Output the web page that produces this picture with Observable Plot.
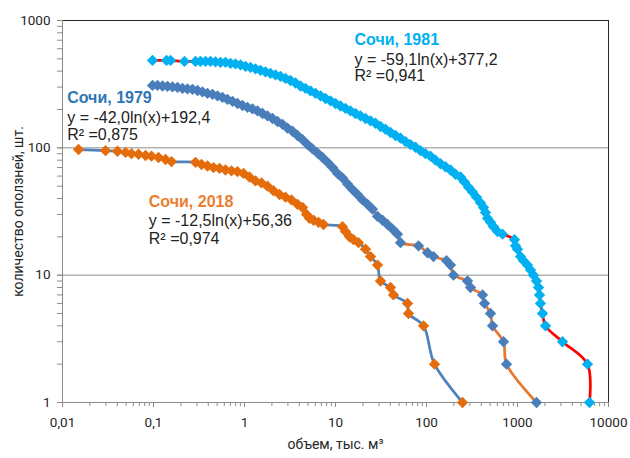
<!DOCTYPE html>
<html><head><meta charset="utf-8">
<script src="https://cdn.jsdelivr.net/npm/d3@7"></script>
<script src="https://cdn.jsdelivr.net/npm/@observablehq/plot@0.6"></script>
<style>html,body{margin:0;padding:0;background:#fff;}</style>
</head><body><div id="chart"></div>
<script>
// Сочи, 1981
const vol1981 = [0.0975, 0.139, 0.154, 0.219, 0.289, 0.328, 0.373, 0.423, 0.480, 0.545, 0.618, 0.702, 0.796, 0.904, 1.026, 1.164, 1.321, 1.499, 1.701, 1.931, 2.191, 2.487, 2.822, 3.203, 3.635, 4.125, 4.682, 5.314, 6.030, 6.843, 7.766, 8.813, 10.0, 11.35, 12.88, 14.62, 16.59, 18.83, 21.37, 24.24, 27.51, 31.22, 35.43, 40.21, 45.63, 51.80, 58.78, 66.70, 75.70, 85.91, 97.50, 110.6, 125.6, 142.5, 161.7, 183.5, 208.3, 236.4, 261.6, 289.4, 320.3, 354.4, 392.2, 423.0, 444.9, 468.2, 505.1, 544.9, 603.0, 684.2, 926.8, 950.7, 1000, 1079, 1164, 1288, 1390, 1499, 1618, 1701, 1745, 1789, 1882, 2031, 3122, 5878, 6183];
const cnt1981 = [486, 486, 486, 477, 477, 477, 477, 477, 473, 469, 469, 460, 456, 448, 436, 428, 417, 406, 395, 384, 374, 364, 351, 338, 323, 306, 293, 280, 268, 256, 244, 234, 223, 213, 204, 195, 186, 178, 170, 163, 156, 147, 140, 132, 125, 119, 112, 106, 101, 95, 90, 86, 80, 75, 71, 67, 62, 59, 54, 49, 45, 41, 37, 34, 31, 28, 26, 24, 22, 21, 19, 17, 16, 14, 13, 12, 11, 10, 9, 8, 7, 6, 5, 4, 3, 2, 1];
// Сочи, 1979
const vol1979 = [0.0975, 0.1106, 0.1256, 0.1425, 0.1617, 0.1836, 0.2083, 0.2364, 0.2683, 0.3045, 0.3454, 0.3921, 0.4450, 0.5050, 0.5730, 0.6504, 0.7381, 0.8377, 0.9507, 1.079, 1.224, 1.389, 1.577, 1.789, 2.031, 2.305, 2.616, 2.969, 3.369, 3.823, 4.340, 4.925, 5.589, 6.343, 7.197, 8.169, 9.268, 10.52, 11.94, 13.55, 15.38, 17.45, 19.80, 22.47, 25.50, 28.94, 32.85, 37.28, 42.31, 48.01, 51.80, 81.67, 102.6, 119.4, 165.9, 183.5, 198.0, 282.2, 304.4, 412.5, 433.9, 505.1, 531.3, 702.0, 757.0, 1618];
const cnt1979 = [309, 309, 306, 304, 301, 298, 293, 290, 288, 282, 275, 268, 263, 256, 249, 240, 232, 223, 215, 208, 202, 195, 186, 178, 170, 161, 153, 143, 135, 125, 116, 106, 98, 91, 84, 77, 70, 63, 58, 52, 47, 43, 39, 36, 33, 29, 27, 25, 23, 21, 18, 17, 15, 14, 13, 12, 10, 9, 8, 7, 6, 5, 4, 3, 2, 1];
// Сочи, 2018
const vol2018 = [0.0150, 0.0297, 0.0402, 0.0493, 0.0573, 0.0684, 0.0817, 0.0951, 0.1135, 0.1355, 0.1577, 0.2894, 0.3369, 0.3921, 0.4564, 0.5312, 0.6183, 0.7197, 0.8377, 0.9750, 1.135, 1.321, 1.538, 1.789, 2.083, 2.425, 2.822, 3.284, 3.823, 4.340, 4.802, 5.180, 5.731, 6.506, 7.382, 11.94, 12.88, 14.25, 15.77, 17.89, 21.37, 24.24, 28.94, 31.22, 40.21, 43.39, 61.83, 63.42, 92.68, 122.4, 248.7];
const cnt2018 = [97, 95, 94, 92, 90, 89, 87, 86, 84, 81, 78, 77, 74, 72, 70, 69, 67, 66, 65, 63, 59, 55, 53, 50, 46, 43, 41, 39, 36, 34, 30, 28, 27, 26, 25, 24, 22, 20, 19, 18, 16, 14, 12, 9, 8, 7, 6, 5, 4, 2, 1];

const xTicks = [0.01, 0.1, 1, 10, 100, 1000, 10000];
const yTicks = [1, 10, 100, 1000];

const seriesNames = ["Сочи, 2018", "Сочи, 1979", "Сочи, 1981"];
const equations = ["y = -12,5ln(x)+56,36", "y = -42,0ln(x)+192,4", "y = -59,1ln(x)+377,2"];
const r2 = ["R² =0,974", "R² =0,875", "R² =0,941"];
const xTitle = "объем, тыс. м³";
const yTitle = "количество оползней, шт.";

// styling (not data)
const markerColors = ["#E46C0A", "#4A7EBB", "#00B0F0"];
const lineColors = ["#4F81BD", "#E8772E", "#FF0000"];
const titleColors = ["#ED7D31", "#2E75B6", "#00B0F0"];
// annotation anchors (left edge, in data units): [x, yTitle, yEq, yR2]
const annoPos = [[0.0888, 37.5, 26.6, 19.3], [0.01126, 249, 173.3, 127.4], [16.18, 706, 492, 370]];

const vols = [vol2018, vol1979, vol1981];
const cnts = [cnt2018, cnt1979, cnt1981];
const series = seriesNames.map((name, i) => vols[i].map((v, j) => ({name, vol: v, cnt: cnts[i][j]})));

const annos = [];
seriesNames.forEach((name, i) => {
  const p = annoPos[i];
  annos.push({x: p[0], y: p[1], text: name, kind: "title", color: titleColors[i]});
  annos.push({x: p[0], y: p[2], text: equations[i], kind: "eq", color: "#222"});
  annos.push({x: p[0], y: p[3], text: r2[i], kind: "eq", color: "#222"});
});

const fmt = d => String(d).replace(".", ",");

const marks = [
  Plot.ruleY([10, 100], {stroke: "#8c8c8c", strokeWidth: 1}),
  Plot.ruleY([1000], {stroke: "#262626", strokeWidth: 1}),
  Plot.ruleX([10000], {stroke: "#262626", strokeWidth: 1}),
  Plot.ruleX([0.01], {stroke: "#8c8c8c", strokeWidth: 1}),
  Plot.ruleY([1], {stroke: "#8c8c8c", strokeWidth: 1}),
  Plot.axisX({ticks: 40, tickSize: 4, tickFormat: () => "", stroke: "#8c8c8c", label: null}),
  Plot.axisX(xTicks, {tickSize: 5, tickPadding: 10, tickFormat: fmt, stroke: "#8c8c8c", fill: "#262626", fontSize: 13.5, label: null}),
  Plot.axisY({ticks: 40, tickSize: 5, tickFormat: () => "", stroke: "#8c8c8c", label: null}),
  Plot.axisY(yTicks, {tickSize: 5, tickPadding: 7, tickFormat: fmt, stroke: "#8c8c8c", fill: "#262626", fontSize: 13.5, label: null}),
  Plot.text([yTitle], {x: 0.01, y: 31.62, dx: -44, rotate: -90, fontSize: 14, fill: "#262626"}),
  Plot.text([xTitle], {frameAnchor: "bottom", dy: 46, fontSize: 14, fill: "#262626"})
];
series.forEach((data, i) => {
  marks.push(Plot.line(data, {x: "vol", y: "cnt", stroke: lineColors[i], strokeWidth: 2.75, curve: "catmull-rom"}));
  marks.push(Plot.dot(data, {x: "vol", y: "cnt", symbol: "diamond2", r: 5.1, fill: markerColors[i], stroke: "none"}));
});
marks.push(Plot.text(annos.filter(a => a.kind === "title"), {x: "x", y: "y", text: "text", fill: "color", textAnchor: "start", fontFamily: "Liberation Sans", fontSize: 16, fontWeight: "bold"}));
marks.push(Plot.text(annos.filter(a => a.kind === "eq"), {x: "x", y: "y", text: "text", fill: "color", textAnchor: "start", fontFamily: "Liberation Sans", fontSize: 16}));

const chart = Plot.plot({
  width: 630, height: 458,
  marginLeft: 62, marginRight: 22, marginTop: 20, marginBottom: 56,
  style: {fontFamily: "Roboto", fontSize: "13.5px", background: "#fff", color: "#262626"},
  x: {type: "log", domain: [0.01, 10000]},
  y: {type: "log", domain: [1, 1000]},
  marks
});
document.getElementById("chart").appendChild(chart);
</script>
</body></html>
